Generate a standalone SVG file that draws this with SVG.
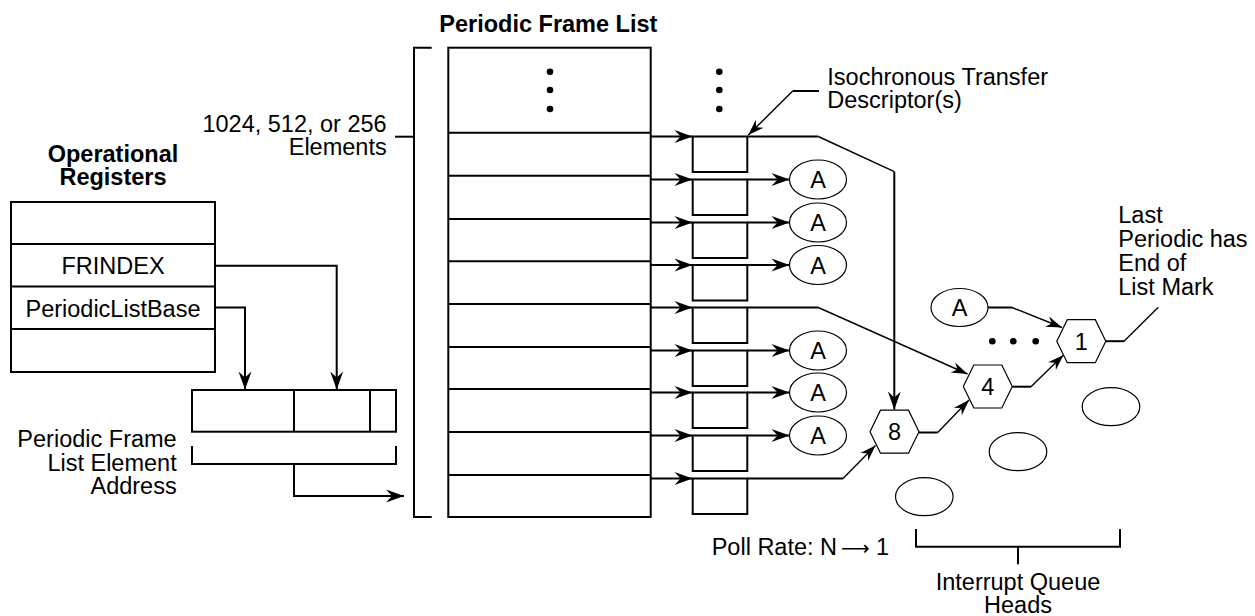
<svg xmlns="http://www.w3.org/2000/svg" width="1255" height="616" viewBox="0 0 1255 616">
<style>
  text { font-family: "Liberation Sans", Arial, sans-serif; font-size: 23.5px; fill: #000; }
  .b { font-weight: bold; }
  .box { fill: #fff; stroke: #000; stroke-width: 2; }
  .ln { fill: none; stroke: #000; stroke-width: 2; }
  .dg { fill: none; stroke: #000; stroke-width: 1.4; }
  .thin { fill: #fff; stroke: #000; stroke-width: 1.2; }
  .mid { text-anchor: middle; }
  .end { text-anchor: end; }
</style>
<defs>
  <marker id="arr" markerUnits="userSpaceOnUse" markerWidth="20" markerHeight="14" refX="18" refY="7" orient="auto" overflow="visible">
    <path d="M18,7 L0,0.5 L6,7 L0,13.5 Z" fill="#000"/>
  </marker>
  <marker id="arrs" markerUnits="userSpaceOnUse" markerWidth="17" markerHeight="12" refX="16" refY="6" orient="auto" overflow="visible">
    <path d="M16,6 L0,0.5 L5,6 L0,11.5 Z" fill="#000"/>
  </marker>
</defs>
<rect width="1255" height="616" fill="#fff"/>

<!-- Operational registers -->
<g id="op-registers">
  <text class="b mid" x="113" y="161.5">Operational</text>
  <text class="b mid" x="113" y="184.5">Registers</text>
  <rect class="box" x="11" y="202" width="204" height="170"/>
  <path class="ln" d="M11,244 H215 M11,286.5 H215 M11,329 H215"/>
  <text class="mid" x="113" y="274">FRINDEX</text>
  <text class="mid" x="113" y="316.5">PeriodicListBase</text>
</g>

<!-- Periodic frame list element address -->
<g id="address">
  <rect class="box" x="192" y="390" width="204" height="41.7"/>
  <path class="ln" d="M294,390 V431.7 M370,390 V431.7"/>
  <path class="ln" d="M192,446 V464 H396 V446"/>
  <text class="end" x="176.7" y="446.7">Periodic Frame</text>
  <text class="end" x="176.7" y="470.5">List Element</text>
  <text class="end" x="176.7" y="494.3">Address</text>
</g>

<!-- Periodic frame list -->
<g id="frame-list">
  <text class="b" x="439.3" y="32">Periodic Frame List</text>
  <path class="ln" d="M431.7,47.7 H414 V517 H431.7"/>
  <path class="ln" d="M395,136.7 H414"/>
  <text class="end" x="386.7" y="131.7">1024, 512, or 256</text>
  <text class="end" x="386.7" y="155">Elements</text>
  <rect class="box" x="448.3" y="47.7" width="202.4" height="469.3"/>
  <path class="ln" d="M448.3,132.7 H650.7 M448.3,175.7 H650.7 M448.3,219 H650.7 M448.3,261.3 H650.7 M448.3,304 H650.7 M448.3,347 H650.7 M448.3,389 H650.7 M448.3,432 H650.7 M448.3,475 H650.7"/>
  <circle cx="550" cy="71.7" r="3.3"/>
  <circle cx="550" cy="90" r="3.3"/>
  <circle cx="550" cy="109" r="3.3"/>
</g>

<!-- Isochronous transfer descriptors -->
<g id="itd-column">
  <circle cx="719.3" cy="71.7" r="3.3"/>
  <circle cx="719.3" cy="90" r="3.3"/>
  <circle cx="719.3" cy="109" r="3.3"/>
  <rect class="box" x="692.7" y="136.5" width="54.6" height="35.5"/>
  <rect class="box" x="692.7" y="179.5" width="54.6" height="35.5"/>
  <rect class="box" x="692.7" y="222.5" width="54.6" height="35.5"/>
  <rect class="box" x="692.7" y="265" width="54.6" height="35.5"/>
  <rect class="box" x="692.7" y="307.5" width="54.6" height="35.5"/>
  <rect class="box" x="692.7" y="350.5" width="54.6" height="35.5"/>
  <rect class="box" x="692.7" y="392.5" width="54.6" height="35.5"/>
  <rect class="box" x="692.7" y="435.5" width="54.6" height="35.5"/>
  <rect class="box" x="692.7" y="478.5" width="54.6" height="35.5"/>
  <text x="827.3" y="84.5">Isochronous Transfer</text>
  <text x="827.3" y="108">Descriptor(s)</text>
</g>

<!-- A nodes -->
<g id="a-nodes">
  <ellipse class="thin" cx="818" cy="179.5" rx="28.5" ry="19.5"/>
  <ellipse class="thin" cx="818" cy="222.5" rx="28.5" ry="19.5"/>
  <ellipse class="thin" cx="818" cy="265" rx="28.5" ry="19.5"/>
  <ellipse class="thin" cx="818" cy="350.5" rx="28.5" ry="19.5"/>
  <ellipse class="thin" cx="818" cy="392.5" rx="28.5" ry="19.5"/>
  <ellipse class="thin" cx="818" cy="435.5" rx="28.5" ry="19.5"/>
  <ellipse class="thin" cx="959.5" cy="307.5" rx="28.5" ry="19"/>
  <text class="mid" x="818" y="188">A</text>
  <text class="mid" x="818" y="231">A</text>
  <text class="mid" x="818" y="273.5">A</text>
  <text class="mid" x="818" y="359">A</text>
  <text class="mid" x="818" y="401">A</text>
  <text class="mid" x="818" y="444">A</text>
  <text class="mid" x="959.5" y="316">A</text>
</g>

<!-- Interrupt queue heads -->
<g id="qh-8">
  <polygon class="thin" points="870,431.7 880.5,410.2 908.5,410.2 919,431.7 908.5,453.2 880.5,453.2"/>
  <text class="mid" x="894.5" y="440">8</text>
</g>
<g id="qh-4">
  <polygon class="thin" points="963.3,386.5 973.8,365 1001.8,365 1012.3,386.5 1001.8,408 973.8,408"/>
  <text class="mid" x="987.8" y="394.8">4</text>
</g>
<g id="qh-1">
  <polygon class="thin" points="1056.8,341.2 1067.3,319.7 1095.3,319.7 1105.8,341.2 1095.3,362.7 1067.3,362.7"/>
  <text class="mid" x="1081.3" y="349.5">1</text>
</g>
<g id="qh-dots">
  <circle cx="992.3" cy="341.3" r="3.3"/>
  <circle cx="1013.3" cy="341.3" r="3.3"/>
  <circle cx="1035.7" cy="341.3" r="3.3"/>
</g>
<g id="qh-empty">
  <ellipse class="thin" cx="1111" cy="406.7" rx="28.8" ry="19"/>
  <ellipse class="thin" cx="1018" cy="451.7" rx="28.8" ry="19"/>
  <ellipse class="thin" cx="924.3" cy="496.7" rx="28.8" ry="19"/>
</g>

<g id="labels">
  <text x="1118.3" y="222.5">Last</text>
  <text x="1118.3" y="246.5">Periodic has</text>
  <text x="1118.3" y="270.5">End of</text>
  <text x="1118.3" y="294.5">List Mark</text>
  <text x="711.7" y="555">Poll Rate: N <tspan style="font-family:'DejaVu Sans',sans-serif;font-size:20px" x="841">⟶</tspan><tspan x="876">1</tspan></text>
  <path class="ln" d="M916,529 V546.7 H1120 V529 M1018,546.7 V564.3"/>
  <text class="mid" x="1018" y="590">Interrupt Queue</text>
  <text class="mid" x="1018" y="613.3">Heads</text>
</g>

<!-- Connectors -->
<g id="connectors">
  <path class="ln" d="M215,265.7 H336.7 V389.5" marker-end="url(#arr)"/>
  <path class="ln" d="M215,307.5 H245 V389.5" marker-end="url(#arr)"/>
  <path class="ln" d="M294,464 V496 H404" marker-end="url(#arr)"/>

  <path class="ln" d="M650.7,136.5 H692.5" marker-end="url(#arr)"/>
  <path class="ln" d="M650.7,179.5 H692.5" marker-end="url(#arr)"/>
  <path class="ln" d="M650.7,222.5 H692.5" marker-end="url(#arr)"/>
  <path class="ln" d="M650.7,265 H692.5" marker-end="url(#arr)"/>
  <path class="ln" d="M650.7,307.5 H692.5" marker-end="url(#arr)"/>
  <path class="ln" d="M650.7,350.5 H692.5" marker-end="url(#arr)"/>
  <path class="ln" d="M650.7,392.5 H692.5" marker-end="url(#arr)"/>
  <path class="ln" d="M650.7,435.5 H692.5" marker-end="url(#arr)"/>
  <path class="ln" d="M650.7,478.5 H692.5" marker-end="url(#arr)"/>

  <path class="ln" d="M747.3,179.5 H789.5" marker-end="url(#arr)"/>
  <path class="ln" d="M747.3,222.5 H789.5" marker-end="url(#arr)"/>
  <path class="ln" d="M747.3,265 H789.5" marker-end="url(#arr)"/>
  <path class="ln" d="M747.3,350.5 H789.5" marker-end="url(#arr)"/>
  <path class="ln" d="M747.3,392.5 H789.5" marker-end="url(#arr)"/>
  <path class="ln" d="M747.3,435.5 H789.5" marker-end="url(#arr)"/>

  <path class="ln" d="M747.3,136.5 H818.3"/>
  <path class="dg" d="M818.3,136.5 L894.3,171.7"/>
  <path class="ln" d="M894.3,171.7 V409.5" marker-end="url(#arr)"/>
  <path class="ln" d="M747.3,307.5 H818.3"/>
  <path class="dg" d="M818.3,307.5 L967.5,374" marker-end="url(#arrs)"/>
  <path class="ln" d="M747.3,478.5 H843"/>
  <path class="dg" d="M843,478.5 L875.5,445.5" marker-end="url(#arrs)"/>

  <path class="ln" d="M919,432.5 H937.7"/>
  <path class="dg" d="M937.7,432.5 L969,400" marker-end="url(#arrs)"/>
  <path class="ln" d="M1012.3,386.7 H1031"/>
  <path class="dg" d="M1031,386.7 L1063.5,355" marker-end="url(#arrs)"/>
  <path class="ln" d="M988,307.5 H1012"/>
  <path class="dg" d="M1012,307.5 L1062,327.5" marker-end="url(#arrs)"/>
  <path class="ln" d="M1105.8,341.2 H1124"/>
  <path class="dg" d="M1124,341.2 L1158.3,307.3"/>

  <path class="ln" d="M819,91 H792.7"/>
  <path class="dg" d="M792.7,91 L748.3,135" marker-end="url(#arrs)"/>
</g>
</svg>
